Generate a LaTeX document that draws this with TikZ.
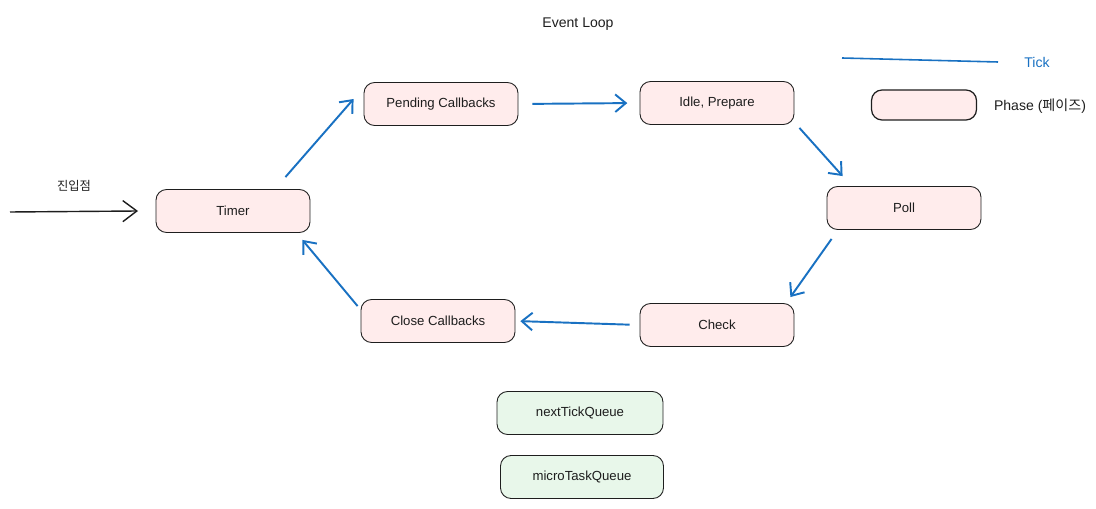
\documentclass[tikz,border=0pt]{standalone}
\usepackage{fontspec}
\setmainfont{Liberation Sans}
\newfontfamily\kr{Noto Sans CJK KR}
\usetikzlibrary{arrows.meta}
\definecolor{tickblue}{RGB}{25,113,194}
\definecolor{phasefill}{RGB}{255,236,236}
\definecolor{queuefill}{RGB}{232,247,234}
\definecolor{inkgray}{RGB}{30,30,30}
\tikzstyle{phase}=[draw=inkgray, fill=phasefill, rounded corners=6pt, line width=0.5pt, minimum width=3.08cm, minimum height=0.86cm, font=\fontsize{7.5}{9}\selectfont, text=inkgray]
\tikzstyle{queue}=[draw=inkgray, fill=queuefill, rounded corners=6pt, line width=0.5pt, minimum width=3.28cm, minimum height=0.86cm, font=\fontsize{7.5}{9}\selectfont, text=inkgray]
\tikzstyle{tick}=[draw=tickblue, line width=1.1pt, -{Straight Barb[length=6pt, width=10pt]}]

\begin{document}
\begin{tikzpicture}[x=0.02cm, y=-0.02cm]
    \useasboundingbox (0,0) rectangle (1096,509);
% Title and legend
    \node[font=\fontsize{8}{10}\selectfont, text=inkgray] (title) at (578,24) {Event Loop};
    \coordinate (tickstart) at (842,58);
    \coordinate (tickend) at (998,62);
    \draw[tickblue, line width=0.9pt] (tickstart) -- (tickend);
    \node[font=\fontsize{8}{10}\selectfont, text=tickblue] (ticklabel) at (1037,62) {Tick};
    \node[phase, line width=0.7pt, minimum width=2.1cm, minimum height=0.6cm] (legend) at (924,105) {};
    \node[font=\fontsize{8}{10}\selectfont, text=inkgray] (legendlabel) at (1040,106) {Phase ({\kr 페이즈})};
% Phases
    \node[phase] (timer) at (233,211) {Timer};
    \node[phase] (pending) at (441,104) {Pending Callbacks};
    \node[phase] (idle) at (717,103) {Idle, Prepare};
    \node[phase] (poll) at (904,208) {Poll};
    \node[phase] (check) at (717,325) {Check};
    \node[phase] (close) at (438,321) {Close Callbacks};
% Queues
    \node[queue, minimum width=3.32cm] (nexttick) at (580,413) {nextTickQueue};
    \node[queue, minimum width=3.26cm] (microtask) at (582,477) {microTaskQueue};
% Entry point
    \coordinate (entry) at (10,212);
    \draw[inkgray, line width=0.8pt, -{Straight Barb[length=8pt, width=12pt]}] (entry) -- ([xshift=-10pt]timer.west) node[midway, above=8pt, font=\kr\fontsize{7}{9}\selectfont] (entrylabel) {진입점};
% Ticks between phases
    \draw[tick] ([shift={(-25,-12)}]timer.north east) -- ([shift={(-10,-5)}]pending.west);
    \draw[tick, shorten <=8pt, shorten >=7pt] (pending.east) -- (idle.west);
    \draw[tick] ([shift={(5,3)}]idle.south east) -- ([shift={(16,-10)}]poll.north west);
    \draw[tick] ([shift={(5,9)}]poll.south west) -- ([shift={(-4,-6)}]check.north east);
    \draw[tick, shorten <=5.7pt, shorten >=2.8pt] (check.west) -- (close.east);
    \draw[tick] ([shift={(-3,7)}]close.north west) -- ([shift={(-8,7)}]timer.south east);
\end{tikzpicture}
\end{document}
